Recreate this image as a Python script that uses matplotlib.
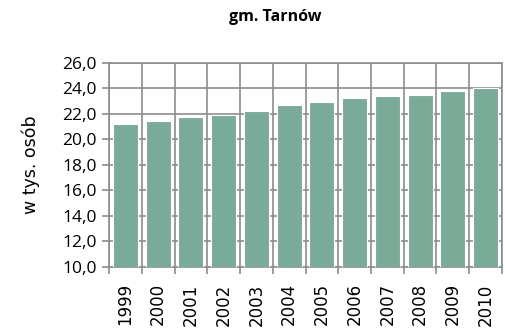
import numpy as np
import matplotlib.pyplot as plt
from matplotlib.ticker import FuncFormatter, MultipleLocator

years = ["1999", "2000", "2001", "2002", "2003", "2004",
         "2005", "2006", "2007", "2008", "2009", "2010"]
values = [21.2, 21.4, 21.7, 21.9, 22.2, 22.7, 22.9, 23.2, 23.4, 23.5, 23.8, 24.0]

grid_col = "#8c8c8c"
bar_col = "#7aaa98"

fig = plt.figure(figsize=(5.05, 3.35), dpi=100)
ax = fig.add_axes([0.216, 0.204, 0.778, 0.609])

x = np.arange(len(years))
ax.bar(x, values, width=0.76, color=bar_col, edgecolor="white", linewidth=0.8,
       zorder=3)

ax.set_xlim(-0.5, len(years) - 0.5)
ax.set_ylim(10, 26)

ax.yaxis.set_major_locator(MultipleLocator(2))
ax.yaxis.set_major_formatter(FuncFormatter(lambda v, p: f"{v:.1f}".replace(".", ",")))
ax.set_xticks(x)
ax.set_xticklabels(years, rotation=90, fontsize=12, fontfamily="DejaVu Sans")
ax.set_xticks(np.arange(-0.5, len(years)), minor=True)
ax.tick_params(axis="x", which="major", length=0, pad=12)
ax.tick_params(axis="x", which="minor", length=5, color=grid_col, width=1.2)
ax.tick_params(axis="y", length=5, color=grid_col, width=1.2, labelsize=12.5, pad=4)
for lab in ax.get_yticklabels():
    lab.set_fontfamily("Open Sans")

ax.grid(True, axis="y", which="major", color=grid_col, linewidth=1.2, zorder=0)
ax.grid(True, axis="x", which="minor", color=grid_col, linewidth=1.2, zorder=0)

for s in ["top", "right", "left", "bottom"]:
    ax.spines[s].set_color(grid_col)
    ax.spines[s].set_linewidth(1.2)
    ax.spines[s].set_zorder(1)

ax.set_ylabel("w tys. osób", fontsize=12.5, fontfamily="DejaVu Sans", labelpad=16)
fig.text(0.545, 0.95, "gm. Tarnów", ha="center", va="center",
         fontsize=11.5, fontweight="bold", fontfamily="Open Sans")

fig.savefig("out.png", dpi=100)
